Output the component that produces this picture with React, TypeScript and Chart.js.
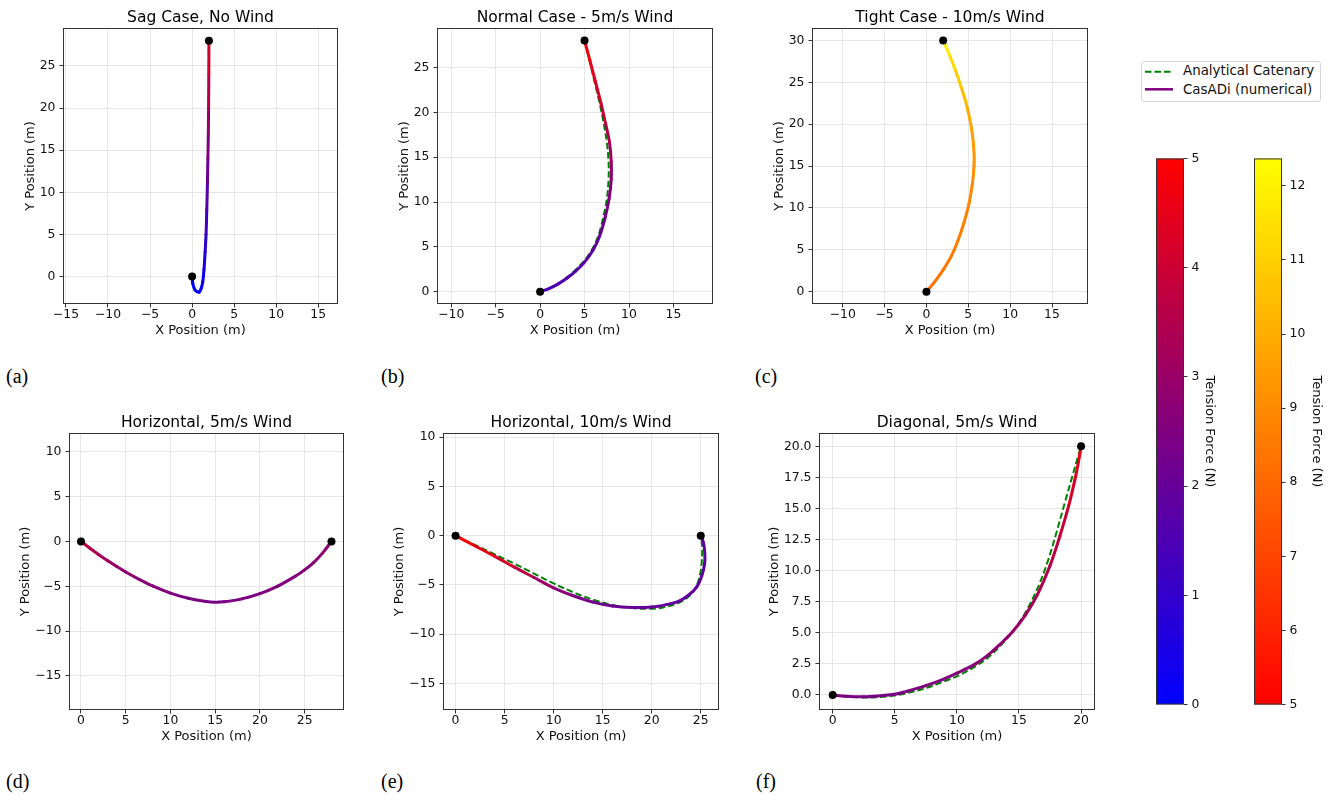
import { useEffect, useRef } from 'react';
import { Chart, registerables } from 'chart.js';

Chart.register(...registerables);

const FONT = "'DejaVu Sans', 'Liberation Sans', sans-serif";
const SERIF = "'Liberation Serif', 'DejaVu Serif', serif";
Chart.defaults.font.family = FONT;

// ---------------- text ----------------
const TITLES = [
  'Sag Case, No Wind',
  'Normal Case - 5m/s Wind',
  'Tight Case - 10m/s Wind',
  'Horizontal, 5m/s Wind',
  'Horizontal, 10m/s Wind',
  'Diagonal, 5m/s Wind',
];
const PANEL_LABELS = ['(a)', '(b)', '(c)', '(d)', '(e)', '(f)'];
const X_LABEL = 'X Position (m)';
const Y_LABEL = 'Y Position (m)';
const CB_LABEL = 'Tension Force (N)';
const LEGEND_LABELS = ['Analytical Catenary', 'CasADi (numerical)'];

// ---------------- colormaps / colorbars ----------------
const CMAP1_STOPS = ['#0000ff', '#ff0000'];
const CMAP1_RANGE = [0, 5];
const CMAP1_TICKS = [0, 1, 2, 3, 4, 5];
const CMAP2_STOPS = ['#ff0000', '#ffff00'];
const CMAP2_RANGE = [5, 12.37];
const CMAP2_TICKS = [5, 6, 7, 8, 9, 10, 11, 12];

// ---------------- (a) Sag Case, No Wind ----------------
const aX = [0, 0.08, 0.3, 0.58, 0.85, 1.08, 1.27, 1.42, 1.55, 1.66, 1.75, 1.82, 1.88, 1.93, 1.96, 1.99, 2.0];
const aY = [0, -0.8, -1.5, -1.78, -1.82, -1.4, -0.6, 0.9, 2.9, 5.0, 8.0, 11.0, 14.0, 17.0, 20.0, 24.0, 28.0];
const aT = [0.15, 0.1, 0.05, 0.05, 0.05, 0.1, 0.2, 0.4, 0.7, 1.0, 1.45, 1.85, 2.3, 2.75, 3.2, 3.85, 4.4];
const aAX = [0, 0.1, 0.32, 0.6, 0.86, 1.07, 1.26, 1.41, 1.54, 1.65, 1.75, 1.82, 1.88, 1.93, 1.96, 1.99, 2.0];
const aAY = [0, -0.8, -1.5, -1.78, -1.82, -1.4, -0.6, 0.9, 2.9, 5.0, 8.0, 11.0, 14.0, 17.0, 20.0, 24.0, 28.0];
const aEndX = [0, 2];
const aEndY = [0, 28];
const aXRange = [-15.35, 17.35];
const aYRange = [-3.25, 29.5];
const aXTicks = [-15, -10, -5, 0, 5, 10, 15];
const aYTicks = [0, 5, 10, 15, 20, 25];

// ---------------- (b) Normal Case - 5m/s Wind ----------------
const bX = [0, 1, 2, 3, 4, 5, 6, 6.7, 7.3, 7.75, 8.0, 8.0, 7.8, 7.35, 6.85, 6.2, 5.6, 5.0];
const bY = [0, 0.35, 0.85, 1.5, 2.3, 3.3, 4.7, 6.2, 8.2, 10.3, 12.5, 14.5, 16.7, 18.8, 21.0, 23.5, 25.8, 28.0];
const bT = [1.5, 1.5, 1.55, 1.6, 1.65, 1.75, 1.85, 2.0, 2.2, 2.45, 2.7, 3.0, 3.3, 3.65, 4.0, 4.35, 4.65, 4.9];
const bAX = [0, 1, 2, 3, 4, 5, 5.95, 6.6, 7.1, 7.5, 7.7, 7.7, 7.5, 7.15, 6.7, 6.1, 5.55, 5.0];
const bAY = [0, 0.4, 0.9, 1.6, 2.45, 3.5, 4.9, 6.4, 8.3, 10.3, 12.5, 14.5, 16.7, 18.8, 21.0, 23.5, 25.8, 28.0];
const bEndX = [0, 5];
const bEndY = [0, 28];
const bXRange = [-11.6, 19.45];
const bYRange = [-1.37, 29.4];
const bXTicks = [-10, -5, 0, 5, 10, 15];
const bYTicks = [0, 5, 10, 15, 20, 25];

// ---------------- (c) Tight Case - 10m/s Wind ----------------
const cX = [0, 1, 2, 3, 3.8, 4.5, 5.1, 5.5, 5.7, 5.6, 5.3, 4.8, 4.1, 3.4, 2.7, 2.0];
const cY = [0, 1.2, 2.6, 4.3, 6.2, 8.3, 10.6, 13.0, 15.5, 17.8, 20.0, 22.3, 24.6, 26.6, 28.4, 30.0];
const cT = [8.2, 8.3, 8.4, 8.5, 8.6, 8.7, 8.85, 9.0, 9.2, 9.45, 9.8, 10.2, 10.65, 11.1, 11.6, 12.3];
const cAX = [0, 1, 2, 3, 3.8, 4.5, 5.1, 5.5, 5.7, 5.6, 5.3, 4.8, 4.1, 3.4, 2.7, 2.0];
const cAY = [0, 1.2, 2.6, 4.3, 6.2, 8.3, 10.6, 13.0, 15.5, 17.8, 20.0, 22.3, 24.6, 26.6, 28.4, 30.0];
const cEndX = [0, 2];
const cEndY = [0, 30];
const cXRange = [-13.67, 19.3];
const cYRange = [-1.47, 31.5];
const cXTicks = [-10, -5, 0, 5, 10, 15];
const cYTicks = [0, 5, 10, 15, 20, 25, 30];

// ---------------- (d) Horizontal, 5m/s Wind ----------------
const dX = [0, 1, 2, 3, 4, 5, 6, 8, 10, 12, 14, 15, 16, 18, 20, 22, 24, 25, 26, 27, 28];
const dY = [0, -0.76, -1.48, -2.16, -2.8, -3.4, -3.96, -4.96, -5.76, -6.34, -6.7, -6.77, -6.72, -6.4, -5.82, -4.98, -3.85, -3.17, -2.35, -1.3, 0];
const dT = [3.9, 3.6, 3.3, 3.1, 2.95, 2.85, 2.75, 2.6, 2.5, 2.45, 2.4, 2.4, 2.4, 2.45, 2.5, 2.55, 2.6, 2.65, 2.7, 2.75, 2.8];
const dAX = [0, 1, 2, 3, 4, 5, 6, 8, 10, 12, 14, 15, 16, 18, 20, 22, 24, 25, 26, 27, 28];
const dAY = [0, -0.76, -1.48, -2.16, -2.8, -3.4, -3.96, -4.96, -5.76, -6.34, -6.7, -6.77, -6.72, -6.4, -5.82, -4.98, -3.85, -3.17, -2.35, -1.3, 0];
const dEndX = [0, 28];
const dEndY = [0, 0];
const dXRange = [-1.34, 29.4];
const dYRange = [-18.8, 12.1];
const dXTicks = [0, 5, 10, 15, 20, 25];
const dYTicks = [-15, -10, -5, 0, 5, 10];

// ---------------- (e) Horizontal, 10m/s Wind ----------------
const eX = [0, 2, 4, 6, 8, 10, 12, 14, 16, 18, 20, 21.5, 22.8, 23.8, 24.6, 25.1, 25.4, 25.4, 25.25, 25.0];
const eY = [0, -1.05, -2.1, -3.2, -4.25, -5.3, -6.1, -6.75, -7.15, -7.3, -7.25, -7.0, -6.65, -6.0, -5.2, -4.1, -2.8, -1.6, -0.6, 0];
const eT = [4.9, 4.7, 4.4, 3.9, 3.3, 2.8, 2.5, 2.3, 2.15, 2.05, 2.0, 1.95, 1.9, 1.9, 1.85, 1.85, 1.8, 1.8, 1.8, 1.8];
const eAX = [0, 2, 4, 6, 8, 10, 12, 14, 16, 18, 20, 21.5, 22.8, 23.8, 24.5, 24.9, 25.1, 25.15, 25.1, 25.0];
const eAY = [0, -0.95, -1.9, -2.85, -3.85, -4.85, -5.75, -6.5, -7.05, -7.35, -7.42, -7.22, -6.8, -6.15, -5.25, -4.05, -2.75, -1.45, -0.55, 0];
const eEndX = [0, 25];
const eEndY = [0, 0];
const eXRange = [-1.28, 26.86];
const eYRange = [-17.7, 10.42];
const eXTicks = [0, 5, 10, 15, 20, 25];
const eYTicks = [-15, -10, -5, 0, 5, 10];

// ---------------- (f) Diagonal, 5m/s Wind ----------------
const fX = [0, 1, 2.5, 4, 5, 6, 7.5, 9, 10, 11.5, 12.5, 13.5, 14.5, 15.5, 16.5, 17.5, 18.3, 19, 19.5, 19.8, 20];
const fY = [0, -0.1, -0.15, -0.05, 0.05, 0.3, 0.75, 1.3, 1.75, 2.5, 3.2, 4.1, 5.1, 6.4, 8.1, 10.4, 12.8, 15.2, 17.3, 18.8, 20];
const fT = [2.5, 2.45, 2.4, 2.4, 2.4, 2.45, 2.5, 2.55, 2.6, 2.65, 2.75, 2.85, 2.95, 3.1, 3.3, 3.55, 3.8, 4.05, 4.3, 4.45, 4.6];
const fAX = [0, 1, 2.5, 4, 5, 6, 7.5, 9, 10, 11.5, 12.5, 13.5, 14.5, 15.5, 16.5, 17.3, 18.0, 18.7, 19.3, 19.7, 20];
const fAY = [0, -0.1, -0.2, -0.15, -0.05, 0.15, 0.55, 1.1, 1.5, 2.3, 3.0, 3.95, 5.1, 6.6, 8.6, 10.7, 13.0, 15.5, 17.6, 19.0, 20];
const fEndX = [0, 20];
const fEndY = [0, 20];
const fXRange = [-1.1, 21.12];
const fYRange = [-1.21, 21.07];
const fXTicks = [0, 5, 10, 15, 20];
const fYTicks = [0, 2.5, 5, 7.5, 10, 12.5, 15, 17.5, 20];

const COLORMAPS = [
  { stops: CMAP1_STOPS, range: CMAP1_RANGE, ticks: CMAP1_TICKS },
  { stops: CMAP2_STOPS, range: CMAP2_RANGE, ticks: CMAP2_TICKS },
];

const PANELS = [
  { x: aX, y: aY, t: aT, ax: aAX, ay: aAY, ex: aEndX, ey: aEndY, xr: aXRange, yr: aYRange, xt: aXTicks, yt: aYTicks, cmap: 0, yDec: 0 },
  { x: bX, y: bY, t: bT, ax: bAX, ay: bAY, ex: bEndX, ey: bEndY, xr: bXRange, yr: bYRange, xt: bXTicks, yt: bYTicks, cmap: 0, yDec: 0 },
  { x: cX, y: cY, t: cT, ax: cAX, ay: cAY, ex: cEndX, ey: cEndY, xr: cXRange, yr: cYRange, xt: cXTicks, yt: cYTicks, cmap: 1, yDec: 0 },
  { x: dX, y: dY, t: dT, ax: dAX, ay: dAY, ex: dEndX, ey: dEndY, xr: dXRange, yr: dYRange, xt: dXTicks, yt: dYTicks, cmap: 0, yDec: 0 },
  { x: eX, y: eY, t: eT, ax: eAX, ay: eAY, ex: eEndX, ey: eEndY, xr: eXRange, yr: eYRange, xt: eXTicks, yt: eYTicks, cmap: 0, yDec: 0 },
  { x: fX, y: fY, t: fT, ax: fAX, ay: fAY, ex: fEndX, ey: fEndY, xr: fXRange, yr: fYRange, xt: fXTicks, yt: fYTicks, cmap: 0, yDec: 1 },
];

// ---------------- layout (pixels) ----------------
const TOP_SPACE = 28;
const X_AXIS_H = 34;
const RIGHT_PAD = 12;
const TICK_SIZE = 12.4;
const LABEL_SIZE = 13;
const PANEL_LAYOUT = [
  { left: 23, top: 0, yW: 40, w: 275, h: 276, lx: 6, ly: 366 },
  { left: 397, top: 0, yW: 40, w: 276, h: 276, lx: 381, ly: 366 },
  { left: 772, top: 0, yW: 40, w: 276, h: 276, lx: 755, ly: 366 },
  { left: 18, top: 405, yW: 51, w: 275, h: 277, lx: 6, ly: 771 },
  { left: 392, top: 405, yW: 51, w: 276, h: 277, lx: 381, ly: 771 },
  { left: 767, top: 405, yW: 52, w: 276, h: 277, lx: 756, ly: 771 },
];
const CB_LAYOUT = [
  { left: 1156, top: 147, barW: 28, axisW: 33, h: 549, pad: 10 },
  { left: 1254, top: 147, barW: 28, axisW: 42, h: 549, pad: 10 },
];

const TEXT = '#111';
const GRID = '#e6e6e6';
const SPINE = '#333';

function hexToRgb(h: string) {
  const n = parseInt(h.slice(1), 16);
  return [(n >> 16) & 255, (n >> 8) & 255, n & 255];
}
function cmapColor(stops: string[], range: number[], v: number) {
  let f = (v - range[0]) / (range[1] - range[0]);
  f = Math.max(0, Math.min(1, f));
  const seg = f * (stops.length - 1);
  const i = Math.min(Math.floor(seg), stops.length - 2);
  const r = seg - i;
  const a = hexToRgb(stops[i]);
  const b = hexToRgb(stops[i + 1]);
  const c = a.map((x, k) => Math.round(x + (b[k] - x) * r));
  return `rgb(${c[0]},${c[1]},${c[2]})`;
}
function fmt(v: number, dec: number) {
  const s = dec ? v.toFixed(dec) : String(Math.round(v));
  return s.replace('-', '\u2212');
}

const boxPlugin = {
  id: 'boxFrame',
  afterDraw(chart: any) {
    const { ctx, chartArea: a } = chart;
    ctx.save();
    ctx.strokeStyle = SPINE;
    ctx.lineWidth = 1;
    ctx.strokeRect(a.left + 0.5, a.top + 0.5, a.right - a.left - 1, a.bottom - a.top - 1);
    ctx.restore();
  },
};

function panelConfig(p: any, i: number, L: any): any {
  const xy = (xs: number[], ys: number[]) => xs.map((x, k) => ({ x, y: ys[k] }));
  const cm = COLORMAPS[p.cmap];
  const tickFont = { family: FONT, size: TICK_SIZE };
  const titleFont = { family: FONT, size: LABEL_SIZE };
  return {
    type: 'line',
    data: {
      datasets: [
        {
          label: 'endpoints',
          data: xy(p.ex, p.ey),
          showLine: false,
          pointRadius: 4,
          pointBackgroundColor: '#000',
          pointBorderColor: '#000',
          pointBorderWidth: 0,
          order: 0,
        },
        {
          label: LEGEND_LABELS[1],
          data: xy(p.x, p.y),
          borderWidth: 3,
          borderColor: 'purple',
          pointRadius: 0,
          tension: 0.35,
          borderCapStyle: 'round',
          borderJoinStyle: 'round',
          segment: {
            borderColor: (ctx: any) =>
              cmapColor(cm.stops, cm.range, (p.t[ctx.p0DataIndex] + p.t[ctx.p1DataIndex]) / 2),
          },
          order: 1,
        },
        {
          label: LEGEND_LABELS[0],
          data: xy(p.ax, p.ay),
          borderWidth: 2,
          borderColor: '#008000',
          borderDash: [6.5, 3],
          pointRadius: 0,
          tension: 0.35,
          order: 2,
        },
      ],
    },
    options: {
      animation: false,
      responsive: false,
      events: [],
      layout: { padding: { left: 0, top: 0, right: RIGHT_PAD, bottom: 0 } },
      plugins: {
        legend: { display: false },
        tooltip: { enabled: false },
        title: {
          display: true,
          text: TITLES[i],
          fullSize: false,
          color: '#000',
          font: { family: FONT, size: 15.5, weight: 'normal' },
          padding: { top: 8.5, bottom: TOP_SPACE - 8.5 - 15.5 * 1.2 },
        },
      },
      scales: {
        x: {
          type: 'linear',
          min: p.xr[0],
          max: p.xr[1],
          afterBuildTicks: (s: any) => {
            s.ticks = p.xt.map((v: number) => ({ value: v }));
          },
          afterFit: (s: any) => {
            s.height = X_AXIS_H;
          },
          grid: { color: GRID, lineWidth: 1, tickLength: 3.5, tickColor: SPINE, tickWidth: 1 },
          border: { display: false },
          ticks: { padding: 0, font: tickFont, color: TEXT, autoSkip: false, maxRotation: 0, callback: (v: any) => fmt(Number(v), 0) },
          title: { display: true, text: X_LABEL, font: titleFont, color: TEXT, padding: { top: 0, bottom: 0 } },
        },
        y: {
          type: 'linear',
          min: p.yr[0],
          max: p.yr[1],
          afterBuildTicks: (s: any) => {
            s.ticks = p.yt.map((v: number) => ({ value: v }));
          },
          afterFit: (s: any) => {
            s.width = L.yW;
          },
          grid: { color: GRID, lineWidth: 1, tickLength: 3.5, tickColor: SPINE, tickWidth: 1 },
          border: { display: false },
          ticks: { padding: 4, font: tickFont, color: TEXT, autoSkip: false, callback: (v: any) => fmt(Number(v), p.yDec) },
          title: { display: true, text: Y_LABEL, font: titleFont, color: TEXT, padding: { top: 0, bottom: 0 } },
        },
      },
    },
    plugins: [boxPlugin],
  };
}

function colorbarConfig(cm: any, L: any): any {
  return {
    type: 'bar',
    data: {
      labels: [''],
      datasets: [
        {
          data: [[cm.range[0], cm.range[1]]],
          backgroundColor: (ctx: any) => {
            const ch = ctx.chart;
            const a = ch.chartArea;
            if (!a) return cm.stops[0];
            const g = ch.ctx.createLinearGradient(0, a.bottom, 0, a.top);
            cm.stops.forEach((s: string, k: number) => g.addColorStop(k / (cm.stops.length - 1), s));
            return g;
          },
          borderWidth: 0,
          barPercentage: 1,
          categoryPercentage: 1,
        },
      ],
    },
    options: {
      animation: false,
      responsive: false,
      events: [],
      layout: { padding: { left: 0, right: 0, top: L.pad, bottom: L.pad } },
      plugins: { legend: { display: false }, tooltip: { enabled: false } },
      scales: {
        x: { display: false },
        y: {
          position: 'right',
          min: cm.range[0],
          max: cm.range[1],
          afterBuildTicks: (s: any) => {
            s.ticks = cm.ticks.map((v: number) => ({ value: v }));
          },
          afterFit: (s: any) => {
            s.width = L.axisW;
          },
          grid: { drawOnChartArea: false, tickLength: 3.5, tickColor: SPINE, tickWidth: 1 },
          border: { display: false },
          ticks: { padding: 4, font: { family: FONT, size: TICK_SIZE }, color: TEXT, autoSkip: false, callback: (v: any) => fmt(Number(v), 0) },
          title: { display: true, text: CB_LABEL, font: { family: FONT, size: LABEL_SIZE }, color: TEXT, padding: { top: 0, bottom: 0 } },
        },
      },
    },
    plugins: [boxPlugin],
  };
}

export default function App() {
  const panelRefs = useRef<(HTMLCanvasElement | null)[]>([]);
  const cbRefs = useRef<(HTMLCanvasElement | null)[]>([]);

  useEffect(() => {
    const charts: Chart[] = [];
    PANELS.forEach((p, i) => {
      const c = panelRefs.current[i];
      if (c) charts.push(new Chart(c, panelConfig(p, i, PANEL_LAYOUT[i])));
    });
    COLORMAPS.forEach((cm, j) => {
      const c = cbRefs.current[j];
      if (c) charts.push(new Chart(c, colorbarConfig(cm, CB_LAYOUT[j])));
    });
    return () => charts.forEach((ch) => ch.destroy());
  }, []);

  return (
    <div
      style={{
        position: 'absolute',
        left: 0,
        top: 0,
        width: 1331,
        height: 796,
        background: '#fff',
        overflow: 'hidden',
        fontFamily: FONT,
      }}
    >
      {PANEL_LAYOUT.map((L, i) => {
        const w = L.yW + L.w + RIGHT_PAD;
        const h = TOP_SPACE + L.h + X_AXIS_H;
        return (
          <canvas
            key={'p' + i}
            ref={(el) => {
              panelRefs.current[i] = el;
            }}
            width={w}
            height={h}
            style={{ position: 'absolute', left: L.left, top: L.top, width: w, height: h }}
          />
        );
      })}
      {CB_LAYOUT.map((L, j) => {
        const w = L.barW + L.axisW;
        const h = L.h + 2 * L.pad;
        return (
          <canvas
            key={'cb' + j}
            ref={(el) => {
              cbRefs.current[j] = el;
            }}
            width={w}
            height={h}
            style={{ position: 'absolute', left: L.left, top: L.top, width: w, height: h }}
          />
        );
      })}
      {PANEL_LAYOUT.map((L, i) => (
        <div
          key={'lab' + i}
          style={{
            position: 'absolute',
            left: L.lx,
            top: L.ly,
            fontFamily: SERIF,
            fontSize: 20,
            lineHeight: '20px',
            color: '#000',
            whiteSpace: 'nowrap',
          }}
        >
          {PANEL_LABELS[i]}
        </div>
      ))}
      <div
        style={{
          position: 'absolute',
          left: 1141,
          top: 61,
          width: 180,
          height: 41,
          boxSizing: 'border-box',
          border: '1px solid #d6d6d6',
          borderRadius: 3,
          background: '#fff',
        }}
      />
      <svg width={40} height={40} style={{ position: 'absolute', left: 1140, top: 61 }}>
        <line x1={5} y1={10.7} x2={33} y2={10.7} stroke="#008000" strokeWidth={2} strokeDasharray="6.5 3" />
        <line x1={5} y1={28.3} x2={33} y2={28.3} stroke="purple" strokeWidth={2.5} />
      </svg>
      {LEGEND_LABELS.map((t, k) => (
        <div
          key={'leg' + k}
          style={{
            position: 'absolute',
            left: 1183,
            top: k === 0 ? 63 : 82,
            fontFamily: FONT,
            fontSize: 13.4,
            lineHeight: '16px',
            color: TEXT,
            whiteSpace: 'nowrap',
          }}
        >
          {t}
        </div>
      ))}
    </div>
  );
}
